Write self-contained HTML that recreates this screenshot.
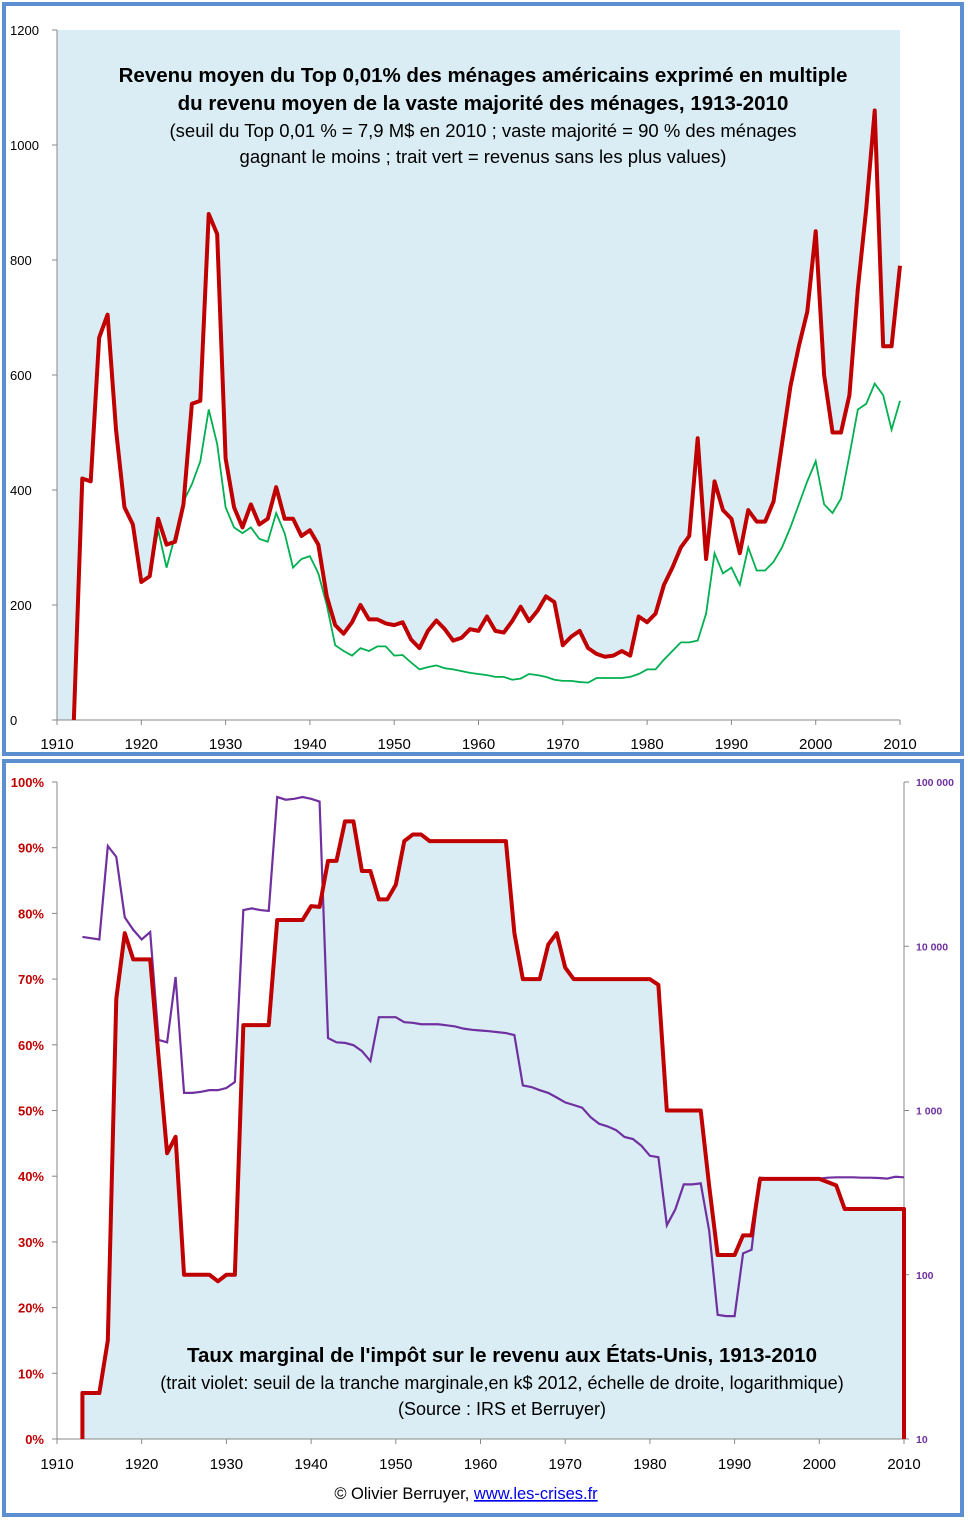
<!DOCTYPE html>
<html><head><meta charset="utf-8"><style>
body{margin:0;background:#fff;width:970px;height:1523px;overflow:hidden;font-family:"Liberation Sans",sans-serif}
svg{position:absolute;left:0;top:0}
</style></head><body>
<svg id="svg" width="970" height="1523" xmlns="http://www.w3.org/2000/svg">
<rect x="4" y="4" width="958" height="750" fill="#fff" stroke="#5b8fd0" stroke-width="4"/>
<rect x="4" y="761" width="958" height="754" fill="#fff" stroke="#5b8fd0" stroke-width="4"/>
<g id="top"></g>
<g id="bot"></g>
<g font-family="Liberation Sans, sans-serif" text-anchor="middle" fill="#000">
<text x="483" y="82" font-size="20.5" font-weight="bold">Revenu moyen du Top 0,01% des ménages américains exprimé en multiple</text>
<text x="483" y="110" font-size="20.5" font-weight="bold">du revenu moyen de la vaste majorité des ménages, 1913-2010</text>
<text x="483" y="137" font-size="18.5">(seuil du Top 0,01 % = 7,9 M$ en 2010 ; vaste majorité = 90 % des ménages</text>
<text x="483" y="163" font-size="18.5">gagnant le moins ;  trait vert =  revenus sans les plus values)</text>
<text x="502" y="1362" font-size="20.5" font-weight="bold">Taux marginal de l'impôt sur le revenu aux États-Unis, 1913-2010</text>
<text x="502" y="1389" font-size="18">(trait violet: seuil de la tranche marginale,en k$ 2012, échelle de droite, logarithmique)</text>
<text x="502" y="1415" font-size="18">(Source : IRS et Berruyer)</text>
<text x="466" y="1499" font-size="16.5">© Olivier Berruyer, <tspan fill="#0000ee" text-decoration="underline">www.les-crises.fr</tspan></text>
</g>
</svg>
<script>
const NS="http://www.w3.org/2000/svg";
const years=[];for(let y=1913;y<=2010;y++)years.push(y);
const topTotal=[420,415,665,705,505,370,340,240,250,350,305,310,375,550,555,880,845,455,370,335,375,340,350,405,350,350,320,330,305,215,165,150,170,200,175,175,168,165,170,140,125,155,173,158,138,143,158,155,180,155,152,172,197,172,190,215,205,130,145,155,125,115,110,112,120,112,180,170,185,235,265,300,320,490,280,415,365,350,290,365,345,345,380,480,580,650,710,850,600,500,500,565,750,890,1060,650,650,790];
const topNoGains=[420,415,665,705,505,370,340,240,250,330,265,320,380,410,450,540,480,370,335,325,335,315,310,360,325,265,280,285,255,200,130,120,112,125,120,128,128,112,113,100,88,92,95,90,88,85,82,80,78,75,75,70,72,80,78,75,70,68,68,66,65,73,73,73,73,75,80,88,88,105,120,135,135,138,185,290,255,265,235,300,260,260,275,300,335,375,415,450,375,360,385,460,540,550,585,565,505,555];
const topYTicks=[0,200,400,600,800,1000,1200];
const xTicks=[1910,1920,1930,1940,1950,1960,1970,1980,1990,2000,2010];
const taxRate=[7,7,7,15,67,77,73,73,73,58,43.5,46,25,25,25,25,24,25,25,63,63,63,63,79,79,79,79,81.1,81,88,88,94,94,86.45,86.45,82.13,82.13,84.36,91,92,92,91,91,91,91,91,91,91,91,91,91,77,70,70,70,75.25,77,71.75,70,70,70,70,70,70,70,70,70,70,69.13,50,50,50,50,50,38.5,28,28,28,31,31,39.6,39.6,39.6,39.6,39.6,39.6,39.6,39.6,39.1,38.6,35,35,35,35,35,35,35,35];
const threshold=[11400,11200,11000,40800,35000,15000,12600,11000,12200,2690,2600,6500,1280,1280,1300,1330,1330,1370,1490,16600,17000,16600,16400,81000,78000,79000,81000,79000,76000,2760,2600,2580,2500,2300,2000,3700,3700,3700,3450,3420,3350,3350,3350,3300,3250,3150,3100,3070,3040,3000,2960,2880,1420,1390,1330,1280,1200,1120,1080,1040,910,830,800,760,690,670,610,530,520,200,250,355,355,360,185,57,56,56,135,142,390,385,385,385,385,385,385,385,390,392,392,392,390,390,388,385,395,392];
const pctTicks=[0,10,20,30,40,50,60,70,80,90,100];
const logTicks=[10,100,1000,10000,100000];
const logLabels=["10","100","1 000","10 000","100 000"];

function el(p,t,a){const e=document.createElementNS(NS,t);for(const k in a)e.setAttribute(k,a[k]);p.appendChild(e);return e;}
const tx=y=>57+(y-1910)*(900-57)/100, ty=v=>720-v*(690/1200);
const T=document.getElementById('top');
let r=el(T,'rect',{x:57,y:30,width:843,height:690,fill:'#daedf4'});


let pts=years.map((y,i)=>tx(y)+','+ty(topTotal[i]));
let area=el(T,'polygon',{points:tx(1912)+','+ty(0)+' '+pts.join(' ')+' '+tx(2010)+','+ty(0),fill:'#fff'});


el(T,'line',{x1:57,y1:30,x2:57,y2:720,stroke:'#888'});
el(T,'line',{x1:57,y1:720,x2:900,y2:720,stroke:'#888'});
topYTicks.forEach(v=>{el(T,'line',{x1:52,x2:57,y1:ty(v),y2:ty(v),stroke:'#888'});
 const t=el(T,'text',{x:10,y:ty(v)+5,'font-size':13});t.textContent=v;
 
 });
xTicks.forEach(v=>{el(T,'line',{x1:tx(v),x2:tx(v),y1:720,y2:725,stroke:'#888'});
 const t=el(T,'text',{x:tx(v),y:749,'font-size':15,'text-anchor':'middle'});t.textContent=v;
 
 });
let g=el(T,'polyline',{points:years.map((y,i)=>tx(y)+','+ty(topNoGains[i])).join(' '),fill:'none',stroke:'#00b050','stroke-width':1.8});


let rl=el(T,'polyline',{points:tx(1912)+','+ty(0)+' '+pts.join(' '),fill:'none',stroke:'#c00000','stroke-width':4,'stroke-linejoin':'round'});


const bx=y=>57+(y-1910)*(904-57)/100, by=v=>1439-v*(657/100), bl=v=>1439-(Math.log10(v)-1)*657/4;
const B=document.getElementById('bot');
let pb=[bx(1913)+','+by(0)].concat(years.map((y,i)=>bx(y)+','+by(taxRate[i]))).concat([bx(2010)+','+by(0)]);
let fa=el(B,'polygon',{points:pb.join(' '),fill:'#daedf4'});


el(B,'line',{x1:57,y1:782,x2:57,y2:1439,stroke:'#888'});
el(B,'line',{x1:904,y1:782,x2:904,y2:1439,stroke:'#888'});
el(B,'line',{x1:57,y1:1439,x2:904,y2:1439,stroke:'#888'});
pctTicks.forEach(v=>{el(B,'line',{x1:52,x2:57,y1:by(v),y2:by(v),stroke:'#888'});
 const t=el(B,'text',{x:44,y:by(v)+5,'font-size':13,'font-weight':'bold',fill:'#c00000','text-anchor':'end'});t.textContent=v+'%';
 
 });
logTicks.forEach((v,i)=>{el(B,'line',{x1:904,x2:909,y1:bl(v),y2:bl(v),stroke:'#888'});
 const t=el(B,'text',{x:916,y:bl(v)+4,'font-size':10.5,'font-weight':'bold',fill:'#7030a0'});t.textContent=logLabels[i];
 
 });
xTicks.forEach(v=>{el(B,'line',{x1:bx(v),x2:bx(v),y1:1439,y2:1444,stroke:'#888'});
 const t=el(B,'text',{x:bx(v),y:1469,'font-size':15,'text-anchor':'middle'});t.textContent=v;
 
 });
let pl=el(B,'polyline',{points:years.map((y,i)=>bx(y)+','+bl(threshold[i])).join(' '),fill:'none',stroke:'#7030a0','stroke-width':2.2});


let tl=el(B,'polyline',{points:pb.join(' '),fill:'none',stroke:'#c00000','stroke-width':4,'stroke-linejoin':'round'});


</script>
</body></html>
